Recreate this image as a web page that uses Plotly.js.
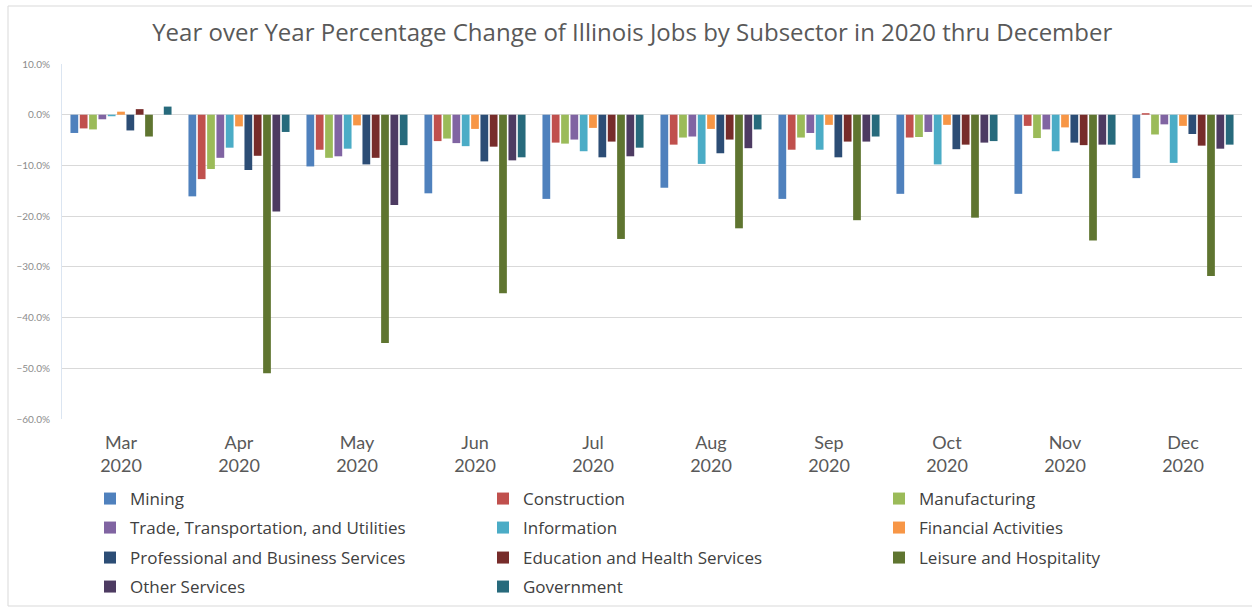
<!DOCTYPE html>
<html>
<head>
<meta charset="utf-8">
<script src="https://cdn.plot.ly/plotly-3.0.1.min.js"></script>
<style>html,body{margin:0;padding:0;background:#fff;}#chart{width:1252px;height:608px;}</style>
</head>
<body>
<div id="chart"></div>
<script>
const months = ["Mar<br>2020","Apr<br>2020","May<br>2020","Jun<br>2020","Jul<br>2020","Aug<br>2020","Sep<br>2020","Oct<br>2020","Nov<br>2020","Dec<br>2020"];
const seriesNames = ["Mining","Construction","Manufacturing","Trade, Transportation, and Utilities","Information","Financial Activities","Professional and Business Services","Education and Health Services","Leisure and Hospitality","Other Services","Government"];
const seriesColors = ["#4F81BD","#C0504D","#9BBB59","#8064A2","#4BACC6","#F79646","#2C4D75","#772C2A","#5F7530","#4D3B62","#276A7C"];

const mining        = [-3.6, -16.1, -10.2, -15.5, -16.6, -14.4, -16.6, -15.6, -15.6, -12.5];
const construction  = [-2.7, -12.7,  -6.9,  -5.2,  -5.5,  -5.9,  -6.9,  -4.5,  -2.2,   0.3];
const manufacturing = [-2.9, -10.7,  -8.5,  -4.7,  -5.7,  -4.5,  -4.5,  -4.4,  -4.6,  -3.9];
const trade         = [-0.9,  -8.5,  -8.2,  -5.6,  -4.9,  -4.3,  -3.6,  -3.4,  -2.9,  -1.9];
const information   = [-0.3,  -6.5,  -6.7,  -6.2,  -7.2,  -9.7,  -6.9,  -9.8,  -7.2,  -9.5];
const financial     = [ 0.6,  -2.3,  -2.1,  -2.8,  -2.6,  -2.8,  -2.0,  -2.0,  -2.5,  -2.2];
const professional  = [-3.1, -10.9,  -9.8,  -9.2,  -8.4,  -7.6,  -8.4,  -6.8,  -5.5,  -3.8];
const education     = [ 1.1,  -8.1,  -8.5,  -6.3,  -5.3,  -4.9,  -5.3,  -5.9,  -6.0,  -6.1];
const leisure       = [-4.3, -51.0, -45.0, -35.2, -24.5, -22.4, -20.8, -20.3, -24.8, -31.8];
const otherServices = [ 0.0, -19.1, -17.8,  -9.0,  -8.2,  -6.6,  -5.3,  -5.5,  -5.9,  -6.7];
const government    = [ 1.6,  -3.4,  -6.0,  -8.4,  -6.5,  -2.9,  -4.3,  -5.2,  -5.9,  -5.9];

const seriesValues = [mining, construction, manufacturing, trade, information, financial, professional, education, leisure, otherServices, government];

const plotTop = 64, plotBottom = 419, plotLeft = 62, plotRight = 1242;
const H = plotBottom - plotTop, W = plotRight - plotLeft;
const py = Y => (plotBottom - Y) / H;
const px = X => (X - plotLeft) / W;

// legend grid: 3 columns, rows filled left to right
const legendColText = [130, 523, 919];
const legendRowY = [499, 528, 558, 587];
const legendKey = i => (i === 0 ? "legend" : "legend" + (i + 1));

const traces = seriesNames.map((name, i) => ({
  type: "bar",
  name: name,
  x: months,
  y: seriesValues[i],
  marker: {color: seriesColors[i], line: {width: 0}},
  legend: legendKey(i),
  hoverinfo: "name+y"
}));

const legendFont = {family: "'Open Sans', Lato, sans-serif", size: 17, color: "#404040"};

const layout = {
  width: 1252, height: 608,
  margin: {l: plotLeft, r: 1252 - plotRight, t: plotTop, b: 608 - plotBottom, pad: 0, autoexpand: false},
  paper_bgcolor: "#ffffff", plot_bgcolor: "#ffffff",
  title: {text: "Year over Year Percentage Change of Illinois Jobs by Subsector in 2020 thru December",
          font: {family: "'Open Sans', Lato, sans-serif", size: 24, color: "#595959"},
          x: 0.505, xanchor: "center", y: 1 - 33/608, yanchor: "middle"},
  barmode: "group", bargap: 0.13, bargroupgap: 0.17,
  xaxis: {type: "category", showgrid: false, zeroline: false, showline: false, ticks: "",
          tickfont: {family: "Lato, 'Open Sans', sans-serif", size: 18, color: "#595959"},
          ticklabelstandoff: 11},
  yaxis: {range: [-60, 10], dtick: 10, tickformat: ".1f", ticksuffix: "%",
          showgrid: true, gridcolor: "#d9d9d9", gridwidth: 1,
          zeroline: true, zerolinecolor: "#d9d9d9", zerolinewidth: 1,
          showline: true, linecolor: "#dbe5f1", linewidth: 1, ticks: "",
          tickfont: {family: "Lato, 'Open Sans', sans-serif", size: 10, color: "#8c8c8c"},
          ticklabelstandoff: 9},
  shapes: [{type: "rect", xref: "paper", yref: "paper",
            x0: px(8), x1: px(1262), y0: py(6), y1: py(606),
            line: {color: "#d9d9d9", width: 1}, fillcolor: "rgba(0,0,0,0)", layer: "below"}],
  showlegend: true
};

seriesNames.forEach((name, i) => {
  const col = i % 3, row = Math.floor(i / 3);
  layout[legendKey(i)] = {
    orientation: "v", x: px(legendColText[col] - 40), xanchor: "left",
    y: py(legendRowY[row]), yanchor: "middle",
    font: legendFont, bgcolor: "rgba(0,0,0,0)", borderwidth: 0, itemclick: false
  };
});

Plotly.newPlot("chart", traces, layout, {displayModeBar: false, staticPlot: true});
</script>
</body>
</html>
